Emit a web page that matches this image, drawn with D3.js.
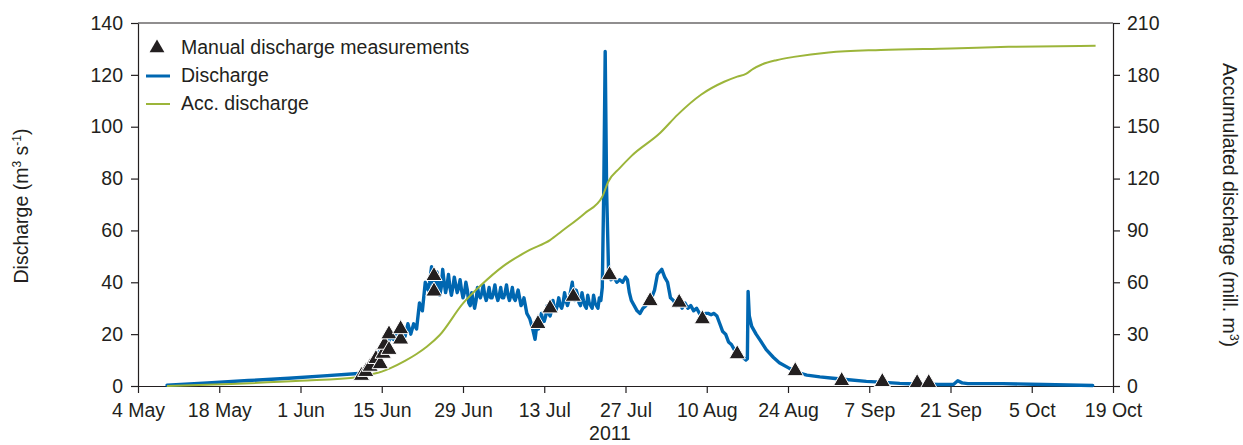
<!DOCTYPE html>
<html>
<head>
<meta charset="utf-8">
<script src="https://cdn.jsdelivr.net/npm/d3@7"></script>
<style>
  body { margin: 0; background: #fff; }
  svg { display: block; }
  text { font-family: "Liberation Sans", Arial, Helvetica, sans-serif; fill: #231f20; }
</style>
</head>
<body>
<svg id="chart" width="1243" height="445"></svg>
<script>
// Continuous discharge record, m3/s ("MM-DD HH", value)
const dischargeSeries = [
  ["05-09 00",0.3],["05-16 00",1.2],["05-23 00",2.1],["05-30 00",3.0],["06-05 00",3.9],["06-11 00",4.8],
  ["06-12 00",5.5],["06-13 00",8],["06-14 00",11],["06-14 12",13],["06-15 00",14],["06-15 12",17],
  ["06-16 00",16],["06-16 12",19],["06-17 00",18],["06-17 12",21],["06-18 00",20],["06-18 12",23],
  ["06-19 00",19],["06-19 12",24],["06-20 00",20],["06-20 12",24],["06-21 00",22],["06-21 12",32],
  ["06-22 00",29],["06-22 12",40],
  ["06-23 00",37],["06-23 06",40],["06-23 14",46],["06-23 18",41],
  ["06-24 00",36],["06-24 06",39],["06-24 12",44],["06-24 18",40],
  ["06-25 00",35],["06-25 06",38],["06-25 12",45],["06-25 18",40],
  ["06-26 00",36],["06-26 06",39],["06-26 12",43],["06-26 18",38],
  ["06-27 00",35],["06-27 06",38],["06-27 12",42],["06-27 18",39],
  ["06-28 00",36],["06-28 06",38],["06-28 12",41],["06-28 18",37],
  ["06-29 00",34],["06-29 06",36],["06-29 12",40],["06-29 18",37],
  ["06-30 00",32],["06-30 06",31],["06-30 12",36],["06-30 18",33],
  ["07-01 00",30],["07-01 06",33],["07-01 12",38],["07-01 18",35],
  ["07-02 00",34],["07-02 06",36],["07-02 12",39],["07-02 18",35],
  ["07-03 00",33],["07-03 06",35],["07-03 12",38],["07-03 18",34],
  ["07-04 00",34],["07-04 06",36],["07-04 12",39],["07-04 18",35],
  ["07-05 00",33],["07-05 06",35],["07-05 12",38],["07-05 18",34],
  ["07-06 00",34],["07-06 06",36],["07-06 12",39],["07-06 18",35],
  ["07-07 00",33],["07-07 06",35],["07-07 12",38],["07-07 18",34],
  ["07-08 00",33],["07-08 06",35],["07-08 12",37],["07-08 18",34],
  ["07-09 00",31],["07-09 06",32],["07-09 12",34],["07-09 18",31],
  ["07-10 00",28],["07-10 06",27],["07-10 12",26],["07-10 18",24],
  ["07-11 00",22],["07-11 10",18],["07-11 18",24],
  ["07-12 00",22],["07-12 06",24],["07-12 12",28],["07-12 18",25],
  ["07-13 00",25],["07-13 06",27],["07-13 12",31],["07-13 18",28],
  ["07-14 00",27],["07-14 06",29],["07-14 12",33],["07-14 18",30],
  ["07-15 00",29],["07-15 06",31],["07-15 12",34],["07-15 18",31],
  ["07-16 00",30],["07-16 06",32],["07-16 12",36],["07-16 18",33],
  ["07-17 00",31],["07-17 06",33],["07-17 12",36],["07-17 20",40],
  ["07-18 00",36],["07-18 06",33],["07-18 12",37],["07-18 18",35],
  ["07-19 00",32],["07-19 06",31],["07-19 12",36],["07-19 18",33],
  ["07-20 00",31],["07-20 06",30],["07-20 12",35],["07-20 18",32],
  ["07-21 00",31],["07-21 06",30],["07-21 12",35],["07-21 18",32],
  ["07-22 00",31],["07-22 06",30],["07-22 12",34],["07-22 18",33],
  ["07-23 00",38],["07-23 06",75],["07-23 12",129],["07-23 18",75],["07-24 02",44],["07-24 12",41],
  ["07-25 00",42],["07-25 12",40],["07-26 00",41],["07-26 12",40],["07-27 00",42],["07-27 08",41],
  ["07-27 16",36],["07-28 00",33],["07-28 12",31],["07-29 00",29],["07-29 12",28],["07-30 00",30],
  ["07-30 12",31],["07-31 00",33],["07-31 12",34],["08-01 00",37],["08-01 12",43],["08-02 06",45],
  ["08-02 18",42],["08-03 06",40],["08-03 18",34],["08-04 06",33],["08-04 18",31],["08-05 06",33],
  ["08-05 18",30],["08-06 06",32],["08-06 18",30],["08-07 06",31],["08-07 18",29],["08-08 06",30],
  ["08-08 18",28],["08-09 06",27],["08-09 18",28],["08-10 06",28],["08-10 18",27.5],["08-11 06",28],
  ["08-11 18",27],["08-12 06",24],["08-12 18",21],["08-13 06",20],["08-13 18",17],["08-14 06",16],
  ["08-14 18",14],["08-15 06",13],["08-15 18",12],["08-16 06",11],["08-16 18",10],["08-17 00",10.5],
  ["08-17 03",36.5],["08-17 08",27],["08-17 18",23],["08-18 12",20],["08-19 06",17.5],["08-20 06",14],
  ["08-21 12",11],["08-22 12",9],["08-24 06",6.8],["08-26 00",5],["08-27 06",4.2],["08-29 12",3.5],
  ["08-31 18",3.0],["09-03 00",2.5],["09-06 12",1.8],["09-09 00",1.5],["09-12 06",1.0],["09-15 00",0.8],
  ["09-19 00",0.6],["09-21 12",0.6],["09-22 06",2.0],["09-23 00",1.2],["09-24 00",0.9],["09-30 00",0.9],
  ["10-07 00",0.6],["10-15 12",0.2]
];

// Accumulated discharge, million m3
const accumulatedSeries = [
  ["05-09 00",0],["05-20 00",1.2],["06-01 00",3.0],["06-11 00",5.2],["06-13 00",6.6],["06-15 00",8.3],
  ["06-16 12",10.3],["06-19 00",14.5],["06-21 00",18.5],["06-22 18",22.7],["06-25 00",29.5],
  ["06-29 00",47.8],["07-02 00",58],["07-06 00",69.5],["07-10 12",78.7],["07-14 00",84.4],
  ["07-16 00",89.5],["07-20 00",100],["07-23 00",109.5],["07-24 00",118],["07-26 00",126],
  ["07-28 00",133],["08-02 00",146.5],["08-05 00",157],["08-09 00",168.5],["08-13 00",176],
  ["08-15 06",179],["08-16 18",180.6],["08-18 00",183.5],["08-19 12",186],["08-22 00",188.5],
  ["08-25 00",190.4],["08-31 00",193],["09-09 00",194.4],["09-21 00",195.3],["10-01 00",196.2],
  ["10-16 00",196.8]
];

// Manual discharge measurements, m3/s
const manualSeries = [
  ["06-11 12",4.0],["06-12 06",5.5],["06-13 00",7.5],["06-14 00",10.5],["06-14 18",8.5],["06-15 06",12.5],
  ["06-15 12",16],["06-16 06",14],["06-16 06",20],["06-18 06",18],["06-18 06",22],["06-24 00",36.5],
  ["06-24 00",42.5],["07-11 22",24],["07-14 00",30],["07-18 00",34.5],["07-24 06",42.8],["07-31 06",32.8],
  ["08-05 06",32.2],["08-09 06",25.8],["08-15 06",12.3],["08-25 06",5.8],["09-02 06",2.0],["09-09 06",1.6],
  ["09-15 06",1.2],["09-17 06",1.2]
];

const leftTicks = [0, 20, 40, 60, 80, 100, 120, 140];
const rightTicks = [0, 30, 60, 90, 120, 150, 180, 210];
const dateTicks = ["05-04","05-18","06-01","06-15","06-29","07-13","07-27","08-10","08-24","09-07","09-21","10-05","10-19"];

const parseTime = d3.timeParse("%Y-%m-%d %H");
const parseDay = d3.timeParse("%Y-%m-%d");
const toPoints = arr => arr.map(([t, v]) => ({ t: parseTime("2011-" + t), v }));

const discharge = toPoints(dischargeSeries);
const accumulated = toPoints(accumulatedSeries);
const manual = toPoints(manualSeries);
const tickDates = dateTicks.map(d => parseDay("2011-" + d));

const plotLeft = 138, plotRight = 1113, plotTop = 23, plotBottom = 386;
const svg = d3.select("#chart");

const x = d3.scaleTime().domain([tickDates[0], tickDates[tickDates.length - 1]]).range([plotLeft, plotRight]);
const yQ = d3.scaleLinear().domain([0, 140]).range([plotBottom, plotTop]);
const yAcc = d3.scaleLinear().domain([0, 210]).range([plotBottom, plotTop]);

const BLUE = "#0067b1", GREEN = "#9cb53a", INK = "#231f20";
const FONT = 19.5;

function styleAxis(g) {
  g.selectAll(".domain").attr("stroke", INK).attr("stroke-width", 1.2);
  g.selectAll(".tick line").attr("stroke", INK).attr("stroke-width", 1.2);
  g.selectAll("text").attr("font-size", FONT)
    .attr("font-family", '"Liberation Sans", Arial, Helvetica, sans-serif').attr("fill", INK);
  g.attr("font-family", null).attr("font-size", null);
}

// frame top edge
svg.append("line").attr("x1", plotLeft).attr("x2", plotRight).attr("y1", plotTop).attr("y2", plotTop)
  .attr("stroke", INK).attr("stroke-width", 1.2);

svg.append("g").attr("transform", `translate(${plotLeft},0)`)
  .call(d3.axisLeft(yQ).tickValues(leftTicks).tickSize(7).tickSizeOuter(0).tickPadding(8))
  .call(styleAxis);

svg.append("g").attr("transform", `translate(${plotRight},0)`)
  .call(d3.axisRight(yAcc).tickValues(rightTicks).tickSize(7).tickSizeOuter(0).tickPadding(7))
  .call(styleAxis);

svg.append("g").attr("transform", `translate(0,${plotBottom})`)
  .call(d3.axisBottom(x).tickValues(tickDates).tickFormat(d3.timeFormat("%-d %b"))
    .tickSize(7).tickSizeOuter(0).tickPadding(10))
  .call(styleAxis);

// discharge line
svg.append("path").datum(discharge)
  .attr("fill", "none").attr("stroke", BLUE).attr("stroke-width", 3.4)
  .attr("stroke-linejoin", "round").attr("stroke-linecap", "round")
  .attr("d", d3.line().x(d => x(d.t)).y(d => yQ(d.v)));

// accumulated discharge line
svg.append("path").datum(accumulated)
  .attr("fill", "none").attr("stroke", GREEN).attr("stroke-width", 2)
  .attr("stroke-linejoin", "round")
  .attr("d", d3.line().curve(d3.curveMonotoneX).x(d => x(d.t)).y(d => yAcc(d.v)));

// manual measurements
const tri = d3.symbol().type(d3.symbolTriangle).size(115);
svg.append("g").selectAll("path").data(manual).join("path")
  .attr("transform", d => `translate(${x(d.t)},${yQ(d.v)})`)
  .attr("d", tri).attr("fill", INK).attr("stroke", "#fff").attr("stroke-width", 1);

// legend
const legend = svg.append("g");
legend.append("path").attr("transform", "translate(157,48)")
  .attr("d", d3.symbol().type(d3.symbolTriangle).size(95)).attr("fill", INK);
legend.append("text").attr("x", 181).attr("y", 54).attr("font-size", FONT).text("Manual discharge measurements");
legend.append("line").attr("x1", 146).attr("x2", 170).attr("y1", 76).attr("y2", 76)
  .attr("stroke", BLUE).attr("stroke-width", 3);
legend.append("text").attr("x", 181).attr("y", 82).attr("font-size", FONT).text("Discharge");
legend.append("line").attr("x1", 146).attr("x2", 170).attr("y1", 104).attr("y2", 104)
  .attr("stroke", GREEN).attr("stroke-width", 2);
legend.append("text").attr("x", 181).attr("y", 110).attr("font-size", FONT).text("Acc. discharge");

// axis titles
const lt = svg.append("text").attr("transform", "translate(27.5,206) rotate(-90)")
  .attr("text-anchor", "middle").attr("font-size", FONT);
lt.append("tspan").text("Discharge (m");
lt.append("tspan").attr("font-size", 12).attr("dy", -7).text("3");
lt.append("tspan").attr("dy", 7).text(" s");
lt.append("tspan").attr("font-size", 12).attr("dy", -7).text("-1");
lt.append("tspan").attr("dy", 7).text(")");

const rt = svg.append("text").attr("transform", "translate(1223,205) rotate(90)")
  .attr("text-anchor", "middle").attr("font-size", FONT);
rt.append("tspan").text("Accumulated discharge (mill. m");
rt.append("tspan").attr("font-size", 12).attr("dy", -7).text("3");
rt.append("tspan").attr("dy", 7).text(")");

svg.append("text").attr("x", 610).attr("y", 440).attr("text-anchor", "middle")
  .attr("font-size", FONT).text("2011");
</script>
</body>
</html>
